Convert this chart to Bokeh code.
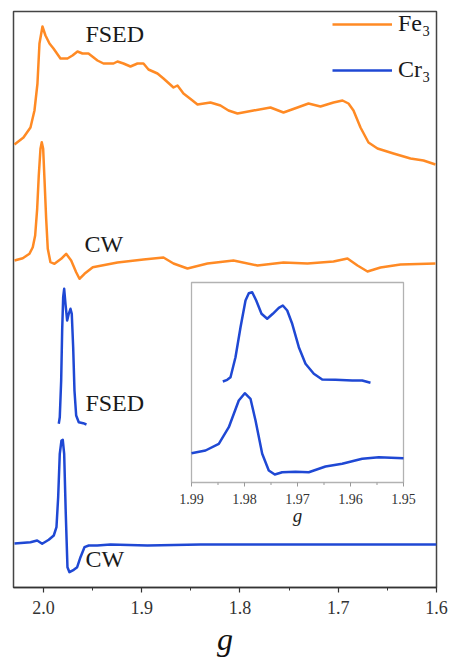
import numpy as np
from bokeh.plotting import figure
from bokeh.models import Range1d, FixedTicker, Legend, LegendItem
from bokeh.core.properties import value
from bokeh.embed import file_html
from bokeh.resources import INLINE

# ---------------- data ----------------
fe_fsed_g = [2.02952, 2.02036, 2.01323, 2.00916, 2.00611, 2.00407, 2.00102, 1.99796, 1.99389,
             1.98982, 1.98270, 1.97557, 1.97048, 1.96539, 1.96031, 1.95420, 1.94504, 1.93893,
             1.92875, 1.92468, 1.91858, 1.91145, 1.90433, 1.89822, 1.89313, 1.88397, 1.87786,
             1.86768, 1.86361, 1.85751, 1.84835, 1.84326, 1.83003, 1.81985, 1.81170, 1.80254,
             1.78626, 1.76896, 1.75573, 1.74148, 1.73028, 1.71807, 1.70483, 1.69567, 1.68957,
             1.68448, 1.67735, 1.66921, 1.66005, 1.64377, 1.62646, 1.61323, 1.60102]
fe_fsed_i = [443, 450, 460, 477, 504, 544, 561, 552, 544, 539, 529, 529, 532, 536, 534, 534, 527,
             524, 524, 526, 524, 521, 524, 524, 518, 514, 509, 500, 502, 494, 487, 483, 485, 482,
             477, 474, 477, 480, 475, 480, 484, 481, 485, 487, 484, 477, 460, 445, 439, 434, 429,
             427, 423]

fe_cw_g = [2.02952, 2.02107, 2.01425, 2.01089, 2.00845, 2.00641, 2.00478, 2.00305, 2.00173,
           2.00031, 1.99898, 1.99725, 1.99562, 1.99288, 1.98880, 1.98198, 1.97690, 1.97181,
           1.96672, 1.96336, 1.95827, 1.94982, 1.92468, 1.89822, 1.87786, 1.86768, 1.85344,
           1.83308, 1.80662, 1.78219, 1.75573, 1.73130, 1.70483, 1.69059, 1.68041, 1.67023,
           1.65700, 1.63664, 1.60102]
fe_cw_i = [327, 329.3, 333.7, 340.3, 352, 378.7, 412, 438.7, 445.3, 438.7, 408.7, 368.7, 338.7,
           325.3, 323.7, 328.7, 333.7, 327, 315.3, 308.7, 313.7, 320.3, 325, 328, 330, 324, 319,
           324, 327, 322, 325, 324, 326, 329, 322, 316, 320, 323, 324]

cr_fsed_g = [1.98443, 1.98341, 1.98198, 1.98097, 1.97995, 1.97893, 1.97761, 1.97588, 1.97425,
             1.97252, 1.97120, 1.96977, 1.96845, 1.96672, 1.96407, 1.95959, 1.95623]
cr_fsed_i = [163.7, 170.3, 207, 257, 290.3, 298.7, 283.7, 267, 273.7, 278.7, 273.7, 240.3, 197,
             172, 165.3, 164.3, 163]

cr_cw_g = [2.02952, 2.01323, 2.00641, 2.00132, 1.99461, 1.98952, 1.98677, 1.98504, 1.98341,
           1.98168, 1.98036, 1.97893, 1.97730, 1.97557, 1.97354, 1.96916, 1.96570, 1.96234,
           1.95827, 1.95389, 1.94534, 1.93181, 1.89415, 1.84020, 1.60000]
cr_cw_i = [44, 45.3, 47, 43.7, 47.7, 52, 60.3, 90.3, 133.7, 147, 147.7, 133.7, 73.7, 20.3, 15.3,
           17.7, 20.3, 30.3, 40.3, 42, 42, 43, 42, 43, 43]

ins_fsed_g = [1.98409, 1.98326, 1.98264, 1.98170, 1.98075, 1.97981, 1.97919, 1.97855, 1.97779,
              1.97679, 1.97572, 1.97466, 1.97353, 1.97277, 1.97194, 1.97100, 1.96975, 1.96849,
              1.96692, 1.96534, 1.96283, 1.95968, 1.95779, 1.95623]
ins_fsed_i = [101, 102.7, 105.3, 125.3, 155.3, 182, 189.3, 190.3, 182, 168.7, 163.7, 168.7,
              174.7, 177, 172, 158.7, 135.3, 118.7, 108.7, 103, 102.7, 102, 102, 99.7]

ins_cw_g = [1.99000, 1.98736, 1.98485, 1.98296, 1.98108, 1.97994, 1.97887, 1.97792, 1.97666,
            1.97542, 1.97428, 1.97289, 1.97038, 1.96787, 1.96472, 1.96157, 1.95779, 1.95466,
            1.95000]
ins_cw_i = [29.3, 32, 38.7, 55.3, 82, 89.3, 83.7, 62, 28.7, 12, 8, 10.3, 10.7, 10.3, 16, 18.7,
            23.7, 25.3, 24.3]

trace_labels = ["FSED", "CW", "FSED", "CW"]
trace_label_g = [1.9573, 1.9583, 1.9573, 1.9573]
trace_label_i = [554, 344, 185, 29]

series_names = ["Fe\u2083", "Cr\u2083"]
x_title = "g"

main_ticks = [2.0, 1.9, 1.8, 1.7, 1.6]
main_tick_labels = ["2.0", "1.9", "1.8", "1.7", "1.6"]
main_minor = [1.95, 1.85, 1.75, 1.65]

inset_ticks = [1.99, 1.98, 1.97, 1.96, 1.95]
inset_tick_labels = ["1.99", "1.98", "1.97", "1.96", "1.95"]
inset_minor = [1.985, 1.975, 1.965, 1.955]
inset_g_lim = [1.99, 1.95]
inset_i_lim = [0, 200]

ORANGE = "#FF8A24"
BLUE = "#1F48D4"
FONT = "'Liberation Serif', serif"

# ---------------- figure ----------------
FW, FH = 423, 576
p = figure(width=449, height=659, output_backend="svg", toolbar_location=None,
           x_range=Range1d(2.0305, 1.6), y_range=Range1d(0, FH),
           min_border_left=13, min_border_right=13, min_border_top=11, min_border_bottom=72)
p.xgrid.visible = False
p.ygrid.visible = False
p.yaxis.visible = False
p.outline_line_color = "#444444"
p.outline_line_width = 1.5
p.background_fill_color = "white"
p.border_fill_color = "white"

ax = p.xaxis[0]
ax.ticker = FixedTicker(ticks=main_ticks, minor_ticks=main_minor)
ax.major_label_overrides = {t: l for t, l in zip(main_ticks, main_tick_labels)}
ax.major_label_text_font = FONT
ax.major_label_text_font_size = "18px"
ax.major_label_text_color = "#333333"
ax.major_label_standoff = 8
ax.major_tick_in = 0
ax.major_tick_out = 5
ax.minor_tick_in = 0
ax.minor_tick_out = 3
ax.axis_line_width = 1.5
ax.axis_line_color = "#333333"
ax.major_tick_line_color = "#333333"
ax.major_tick_line_width = 1.2
ax.minor_tick_line_color = "#333333"
ax.axis_label = x_title
ax.axis_label_text_font = FONT
ax.axis_label_text_font_style = "italic"
ax.axis_label_text_font_size = "32px"
ax.axis_label_text_color = "#111111"
ax.axis_label_standoff = 4

LW = 2.5
r_fe = p.line(fe_fsed_g, fe_fsed_i, line_color=ORANGE, line_width=LW, line_join="round")
p.line(fe_cw_g, fe_cw_i, line_color=ORANGE, line_width=LW, line_join="round")
r_cr = p.line(cr_fsed_g, cr_fsed_i, line_color=BLUE, line_width=LW, line_join="round")
p.line(cr_cw_g, cr_cw_i, line_color=BLUE, line_width=LW, line_join="round")

p.text(x=trace_label_g, y=trace_label_i, text=trace_labels, text_font=value(FONT),
       text_font_size=value("24px"), text_color="#1a1a1a", text_align="left",
       text_baseline="alphabetic")

# ---------------- inset (extra ranges placed inside the main frame) ----------------
fl, fr = (191 - 13) / FW, (403 - 13) / FW
fb, ft = (587 - 482) / FH, (587 - 282) / FH
span_x = (inset_g_lim[0] - inset_g_lim[1]) / (fr - fl)
x0 = inset_g_lim[0] + fl * span_x
span_y = (inset_i_lim[1] - inset_i_lim[0]) / (ft - fb)
y0 = inset_i_lim[0] - fb * span_y
p.extra_x_ranges = {"ins": Range1d(x0, x0 - span_x)}
p.extra_y_ranges = {"ins": Range1d(y0, y0 + span_y)}
ypx = span_y / FH
kw = dict(x_range_name="ins", y_range_name="ins")

p.quad(left=inset_g_lim[0], right=inset_g_lim[1], bottom=inset_i_lim[0], top=inset_i_lim[1],
       fill_color=None, line_color="#b2b2b2", line_width=1.3, **kw)
p.segment(x0=inset_ticks, y0=[inset_i_lim[0]] * len(inset_ticks), x1=inset_ticks,
          y1=[inset_i_lim[0] - 4 * ypx] * len(inset_ticks), line_color="#999999", line_width=1, **kw)
p.segment(x0=inset_minor, y0=[inset_i_lim[0]] * len(inset_minor), x1=inset_minor,
          y1=[inset_i_lim[0] - 2.5 * ypx] * len(inset_minor), line_color="#999999", line_width=1, **kw)
p.text(x=inset_ticks, y=[inset_i_lim[0] - 16 * ypx] * len(inset_ticks), text=inset_tick_labels,
       text_font=value(FONT), text_font_size=value("14px"), text_color="#333333",
       text_align="center", text_baseline="alphabetic", **kw)
p.text(x=[sum(inset_g_lim) / 2], y=[inset_i_lim[0] - 33 * ypx], text=[x_title],
       text_font=value(FONT), text_font_size=value("19px"), text_font_style="italic",
       text_color="#222222", text_align="center", text_baseline="alphabetic", **kw)

p.line(ins_fsed_g, ins_fsed_i, line_color=BLUE, line_width=LW, line_join="round", **kw)
p.line(ins_cw_g, ins_cw_i, line_color=BLUE, line_width=LW, line_join="round", **kw)

# ---------------- legend ----------------
legend = Legend(items=[LegendItem(label=series_names[0], renderers=[r_fe]),
                       LegendItem(label=series_names[1], renderers=[r_cr])],
                location=(315, 500), margin=0, padding=4, spacing=19,
                glyph_width=60, glyph_height=20, label_height=20, label_standoff=6,
                label_text_font=FONT, label_text_font_size="24px", label_text_color="#1a1a1a",
                background_fill_alpha=0, border_line_alpha=0)
p.add_layout(legend)

open("out.html", "w").write(file_html(p, INLINE))
